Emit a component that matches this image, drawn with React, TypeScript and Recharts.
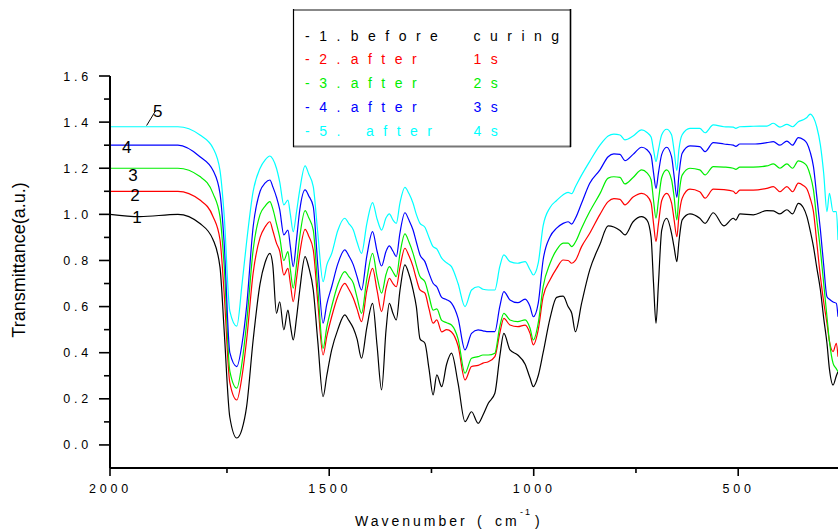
import React from 'react';
import { LineChart, Line, XAxis, YAxis, Legend, ReferenceDot, ReferenceLine } from 'recharts';

const FONT = '"Liberation Sans", Arial, Helvetica, sans-serif';

// Wavenumber (cm-1) grid
const wavenumbers = [
  2036, 1963, 1870, 1816, 1784, 1767, 1757, 1743, 1726, 1713, 1702, 1686, 1669, 1657, 1645, 1638,
  1629, 1621, 1611, 1601, 1595, 1588, 1580, 1572, 1559, 1550, 1539, 1528, 1515, 1506, 1494, 1479,
  1462, 1452, 1441, 1432, 1421, 1408, 1394, 1383, 1372, 1361, 1353, 1344, 1336, 1327, 1315, 1305,
  1295, 1287, 1278, 1266, 1256, 1246, 1237, 1225, 1213, 1201, 1185, 1168, 1152, 1136, 1124, 1111,
  1095, 1083, 1073, 1058, 1039, 1021, 1009, 1001, 989, 977, 960, 944, 928, 916, 907, 898,
  883, 863, 838, 818, 804, 789, 777, 757, 736, 723, 713, 707, 701, 695, 687, 675,
  663, 657, 650, 645, 637, 618, 594, 581, 561, 535, 512, 506, 496, 463, 430, 414,
  398, 381, 367, 353, 341, 332, 324, 316, 308, 299, 291, 283, 277, 268, 260, 256,
];

// 1. before curing
const before = [
  1.0, 0.99, 1.0, 0.96, 0.89, 0.77, 0.5, 0.12, 0.03, 0.07, 0.166, 0.455, 0.7, 0.79, 0.831, 0.78,
  0.571, 0.621, 0.499, 0.585, 0.52, 0.455, 0.55, 0.672, 0.817, 0.77, 0.672, 0.45, 0.209, 0.3, 0.412, 0.5,
  0.564, 0.54, 0.506, 0.46, 0.376, 0.51, 0.614, 0.43, 0.239, 0.5, 0.614, 0.57, 0.542, 0.67, 0.781, 0.74,
  0.672, 0.6, 0.46, 0.441, 0.33, 0.217, 0.304, 0.253, 0.35, 0.398, 0.268, 0.101, 0.144, 0.094, 0.13, 0.181,
  0.224, 0.383, 0.484, 0.412, 0.39, 0.35, 0.29, 0.253, 0.3, 0.4, 0.55, 0.64, 0.645, 0.6, 0.571, 0.491,
  0.614, 0.759, 0.87, 0.95, 0.945, 0.93, 0.911, 0.968, 0.99, 0.975, 0.9, 0.7, 0.528, 0.7, 0.932, 0.983,
  0.918, 0.86, 0.795, 0.88, 0.976, 1.002, 0.983, 0.961, 1.007, 0.95, 0.983, 0.975, 1.002, 0.998, 1.016, 1.015,
  1.002, 1.02, 1.002, 1.048, 1.03, 0.99, 0.93, 0.86, 0.77, 0.672, 0.55, 0.441, 0.33, 0.26, 0.3, 0.318,
];

// 2. after 1s
const after1s = [
  1.1, 1.1, 1.1, 1.062, 0.99, 0.89, 0.66, 0.27, 0.195, 0.3, 0.455, 0.745, 0.9, 0.945, 0.968, 0.93,
  0.875, 0.84, 0.737, 0.766, 0.7, 0.621, 0.72, 0.831, 0.935, 0.905, 0.846, 0.62, 0.39, 0.47, 0.556, 0.645,
  0.701, 0.675, 0.636, 0.59, 0.535, 0.67, 0.766, 0.67, 0.578, 0.68, 0.723, 0.7, 0.686, 0.77, 0.853, 0.82,
  0.773, 0.72, 0.672, 0.658, 0.59, 0.528, 0.542, 0.49, 0.5, 0.49, 0.43, 0.282, 0.34, 0.345, 0.355, 0.361,
  0.383, 0.484, 0.549, 0.52, 0.513, 0.52, 0.484, 0.434, 0.499, 0.643, 0.716, 0.766, 0.802, 0.8, 0.788, 0.8,
  0.86, 0.918, 1.0, 1.055, 1.068, 1.065, 1.041, 1.075, 1.091, 1.08, 1.05, 0.96, 0.882, 0.96, 1.06, 1.091,
  1.05, 0.98, 0.903, 0.99, 1.07, 1.109, 1.098, 1.07, 1.109, 1.107, 1.1, 1.09, 1.105, 1.105, 1.113, 1.12,
  1.098, 1.12, 1.098, 1.135, 1.125, 1.11, 1.07, 1.012, 0.88, 0.73, 0.62, 0.528, 0.45, 0.405, 0.441, 0.383,
];

// 3. after 2s
const after2s = [
  1.2, 1.2, 1.2, 1.164, 1.09, 0.99, 0.78, 0.32, 0.246, 0.36, 0.528, 0.846, 1.0, 1.035, 1.055, 1.025,
  0.96, 0.9, 0.8, 0.838, 0.76, 0.68, 0.78, 0.903, 1.016, 0.985, 0.932, 0.68, 0.419, 0.51, 0.6, 0.695,
  0.752, 0.73, 0.701, 0.64, 0.571, 0.72, 0.831, 0.73, 0.658, 0.74, 0.773, 0.75, 0.73, 0.83, 0.915, 0.88,
  0.831, 0.78, 0.73, 0.708, 0.645, 0.585, 0.59, 0.54, 0.53, 0.52, 0.46, 0.311, 0.376, 0.383, 0.39, 0.39,
  0.398, 0.513, 0.571, 0.542, 0.535, 0.542, 0.506, 0.455, 0.528, 0.686, 0.788, 0.846, 0.875, 0.875, 0.86, 0.88,
  0.94, 1.012, 1.09, 1.157, 1.163, 1.16, 1.132, 1.16, 1.193, 1.18, 1.15, 1.06, 0.983, 1.06, 1.16, 1.193,
  1.15, 1.08, 0.976, 1.08, 1.17, 1.2, 1.193, 1.171, 1.207, 1.205, 1.2, 1.195, 1.205, 1.205, 1.21, 1.219,
  1.2, 1.219, 1.2, 1.232, 1.225, 1.21, 1.17, 1.106, 0.98, 0.846, 0.7, 0.556, 0.45, 0.354, 0.33, 0.318,
];

// 4. after 3s
const after3s = [
  1.3, 1.3, 1.3, 1.25, 1.19, 1.09, 0.88, 0.4, 0.34, 0.44, 0.6, 0.946, 1.1, 1.135, 1.149, 1.12,
  1.075, 1.02, 0.911, 0.932, 0.86, 0.773, 0.89, 1.019, 1.106, 1.08, 1.033, 0.78, 0.528, 0.61, 0.686, 0.785,
  0.846, 0.82, 0.781, 0.73, 0.672, 0.82, 0.925, 0.84, 0.776, 0.84, 0.863, 0.84, 0.817, 0.92, 1.007, 0.975,
  0.932, 0.88, 0.824, 0.795, 0.745, 0.701, 0.686, 0.64, 0.63, 0.615, 0.55, 0.412, 0.484, 0.499, 0.495, 0.491,
  0.491, 0.6, 0.665, 0.629, 0.617, 0.632, 0.6, 0.556, 0.614, 0.802, 0.903, 0.94, 0.961, 0.968, 0.958, 0.983,
  1.048, 1.135, 1.193, 1.25, 1.262, 1.26, 1.233, 1.26, 1.291, 1.28, 1.255, 1.18, 1.113, 1.18, 1.26, 1.291,
  1.25, 1.17, 1.074, 1.17, 1.265, 1.297, 1.294, 1.272, 1.311, 1.305, 1.3, 1.295, 1.305, 1.305, 1.311, 1.315,
  1.3, 1.318, 1.3, 1.333, 1.325, 1.308, 1.27, 1.207, 1.08, 0.932, 0.78, 0.643, 0.632, 0.62, 0.614, 0.556,
];

// 5. after 4s
const after4s = [
  1.38, 1.38, 1.38, 1.344, 1.287, 1.19, 1.0, 0.58, 0.515, 0.7, 0.88, 1.1, 1.2, 1.235, 1.253, 1.24,
  1.2, 1.14, 1.041, 1.062, 1.0, 0.925, 1.01, 1.106, 1.21, 1.175, 1.12, 0.92, 0.708, 0.78, 0.83, 0.93,
  0.983, 0.96, 0.932, 0.88, 0.831, 0.96, 1.051, 0.98, 0.932, 0.985, 1.002, 0.975, 0.961, 1.05, 1.117, 1.09,
  1.048, 1.0, 0.961, 0.944, 0.9, 0.86, 0.85, 0.81, 0.79, 0.773, 0.7, 0.6, 0.672, 0.686, 0.675, 0.672,
  0.672, 0.773, 0.824, 0.795, 0.788, 0.795, 0.76, 0.737, 0.788, 0.95, 1.03, 1.06, 1.085, 1.095, 1.09, 1.12,
  1.17, 1.23, 1.3, 1.34, 1.348, 1.344, 1.323, 1.34, 1.366, 1.355, 1.335, 1.28, 1.229, 1.28, 1.345, 1.369,
  1.345, 1.28, 1.19, 1.28, 1.345, 1.373, 1.373, 1.354, 1.388, 1.38, 1.378, 1.373, 1.38, 1.382, 1.383, 1.395,
  1.378, 1.39, 1.38, 1.402, 1.41, 1.42, 1.435, 1.42, 1.38, 1.3, 1.178, 1.012, 1.091, 1.012, 1.012, 0.889,
];

const seriesKeys = ['s1', 's2', 's3', 's4', 's5'];
const seriesColors = ['#000000', '#ff0000', '#00ee00', '#0000ff', '#00ffff'];
const legendPrefix = ['-1.', '-2.', '-3.', '-4.', '-5.'];
const legendWord = ['before', 'after', 'after', 'after', 'after'];
const legendTime = ['curing', '1s', '2s', '3s', '4s'];

// Curve number labels: [wavenumber, value, text]
const curveLabelX = [1970, 1975, 1980, 1995, 1919];
const curveLabelY = [0.989, 1.084, 1.171, 1.294, 1.448];
const curveLabelText = ['1', '2', '3', '4', '5'];

const xTicks = [2036, 1750, 1500, 1250, 1000, 750, 500];
const xTickText: Record<number, string> = { 2036: '2000', 1500: '1500', 1000: '1000', 500: '500' };
const yTicks = [0, 0.1, 0.2, 0.3, 0.4, 0.5, 0.6, 0.7, 0.8, 0.9, 1.0, 1.1, 1.2, 1.3, 1.4, 1.5, 1.6];

const data = wavenumbers.map((w, i) => ({
  w,
  s1: before[i],
  s2: after1s[i],
  s3: after2s[i],
  s4: after3s[i],
  s5: after4s[i],
}));

const XTick = (props: any) => {
  const { x, y, payload } = props;
  const label = xTickText[payload.value];
  const major = label !== undefined;
  return (
    <g>
      <line x1={x} x2={x} y1={y} y2={y + (major ? 8 : 5)} stroke="#000" strokeWidth={1.6} />
      {major && (
        <text x={x + 0.5} y={y + 25} textAnchor="middle" fontSize={12.5} letterSpacing={3.8}
          fontFamily={FONT} fill="#000">{label}</text>
      )}
    </g>
  );
};

const YTick = (props: any) => {
  const { x, y, payload } = props;
  const v = payload.value as number;
  const major = Math.round(v * 10) % 2 === 0;
  return (
    <g>
      <line x1={x} x2={x - (major ? 11 : 6)} y1={y} y2={y} stroke="#000" strokeWidth={1.6} />
      {major && (
        <text x={x - 18} y={y} dy="0.36em" textAnchor="end" fontSize={12.5} letterSpacing={3.8}
          fontFamily={FONT} fill="#000">{v.toFixed(1)}</text>
      )}
    </g>
  );
};

const LegendBox = () => (
  <svg width={280} height={140} style={{ display: 'block', overflow: 'visible' }}>
    <rect x={0.5} y={0.5} width={277} height={137} fill="#fff" stroke="none" />
    <line x1={0} x2={278} y1={1} y2={1} stroke="#888" strokeWidth={2} />
    <line x1={0} x2={278} y1={137.5} y2={137.5} stroke="#777" strokeWidth={2} />
    <line x1={0.5} x2={0.5} y1={0} y2={138} stroke="#000" strokeWidth={1.2} />
    <line x1={277.5} x2={277.5} y1={0} y2={138} stroke="#000" strokeWidth={1.6} />
    {legendPrefix.map((p, i) => {
      const yb = 31.5 + i * 23.9;
      const c = seriesColors[i];
      return (
        <g key={p} fontFamily={FONT} fontSize={14} letterSpacing={9.5} fill={c}>
          <text x={12} y={yb}>{p}</text>
          <text x={i === 4 ? 73 : 57.7} y={yb}>{legendWord[i]}</text>
          <text x={180.5} y={yb}>{legendTime[i]}</text>
        </g>
      );
    })}
  </svg>
);

export default function App() {
  return (
    <div style={{ position: 'absolute', left: 0, top: 0, width: 838, height: 531, background: '#fff' }}>
      <LineChart width={838} height={531} data={data} margin={{ top: 76, right: 0, bottom: 0, left: 0 }}>
        <XAxis
          type="number"
          dataKey="w"
          domain={[256, 2036]}
          reversed
          allowDataOverflow
          ticks={xTicks}
          interval={0}
          tick={<XTick />}
          tickLine={false}
          tickSize={0}
          tickMargin={0}
          height={63}
          axisLine={{ stroke: '#000', strokeWidth: 2 }}
          label={{
            content: () => (
              <text y={526} fontFamily={FONT} fontSize={14} fill="#000" letterSpacing={3}>
                <tspan x={355}>Wavenumber</tspan>
                <tspan x={477}>(</tspan>
                <tspan x={495}>cm</tspan>
                <tspan x={520} dy={-11} fontSize={9} letterSpacing={2}>-1</tspan>
                <tspan x={535} dy={11}>)</tspan>
              </text>
            ),
          }}
        />
        <YAxis
          type="number"
          domain={[-0.1, 1.6]}
          allowDataOverflow
          ticks={yTicks}
          interval={0}
          tick={<YTick />}
          tickLine={false}
          tickSize={0}
          tickMargin={0}
          width={110}
          axisLine={{ stroke: '#000', strokeWidth: 2 }}
          label={{
            content: () => (
              <text x={25} y={260} transform="rotate(-90 25 260)" textAnchor="middle"
                fontFamily={FONT} fontSize={18} fill="#000">Transmittance(a.u.)</text>
            ),
          }}
        />
        <Legend
          layout="vertical"
          align="center"
          verticalAlign="middle"
          wrapperStyle={{ left: 293, top: 9, width: 280, height: 140 }}
          content={() => <LegendBox />}
        />
        {seriesKeys.map((k, i) => (
          <Line
            key={k}
            dataKey={k}
            type="monotone"
            stroke={seriesColors[i]}
            strokeWidth={1.2}
            dot={false}
            isAnimationActive={false}
          />
        ))}
        <ReferenceLine
          segment={[{ x: 1946.5, y: 1.385 }, { x: 1926, y: 1.445 }]}
          stroke="#000"
          strokeWidth={1}
          ifOverflow="visible"
        />
        {curveLabelText.map((t, i) => (
          <ReferenceDot
            key={t}
            x={curveLabelX[i]}
            y={curveLabelY[i]}
            r={1}
            fill="none"
            stroke="none"
            ifOverflow="visible"
            label={{ value: t, position: 'center', fontSize: 17, fill: '#000', fontFamily: FONT }}
          />
        ))}
      </LineChart>
    </div>
  );
}
